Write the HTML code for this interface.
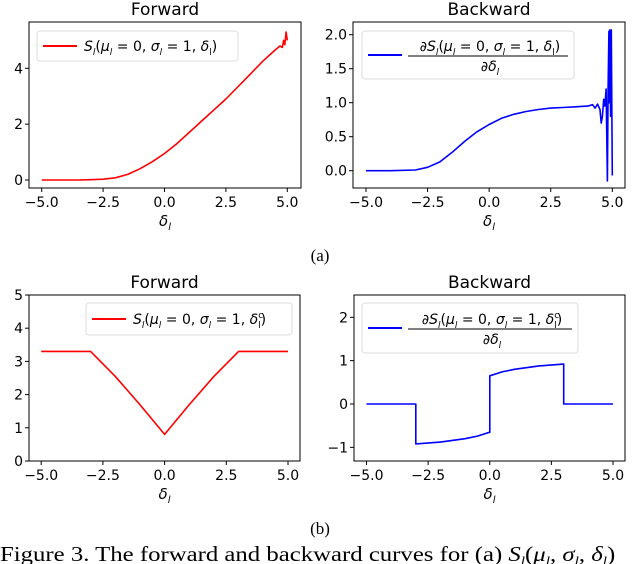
<!DOCTYPE html>
<html><head><meta charset="utf-8"><style>
body{margin:0;background:#fff;width:640px;height:564px;overflow:hidden}
svg{display:block}
text{font-family:"DejaVu Sans","Liberation Sans",sans-serif;fill:#000}
.cap{font-family:"Liberation Serif",serif}
</style></head><body>
<svg id="fig" width="640" height="564" viewBox="0 0 640 564">
<text x="320" y="261" class="cap" font-size="17" text-anchor="middle">(a)</text>
<text x="320" y="534" class="cap" font-size="17" text-anchor="middle">(b)</text>
<text x="0" y="561" class="cap" font-size="21" transform="scale(1.18,1)">Figure 3. The forward and backward curves for (a) <tspan font-style="italic">S</tspan><tspan font-style="italic" font-size="13" dy="4">l</tspan><tspan dy="-4">(</tspan><tspan font-style="italic">μ</tspan><tspan font-style="italic" font-size="13" dy="4">l</tspan><tspan dy="-4">, </tspan><tspan font-style="italic">σ</tspan><tspan font-style="italic" font-size="13" dy="4">l</tspan><tspan dy="-4">, </tspan><tspan font-style="italic">δ</tspan><tspan font-style="italic" font-size="13" dy="4">l</tspan><tspan dy="-4">)</tspan></text>
</svg>
<script>
// Panel A forward
const aFwdX=[-5,-4.5,-4,-3.5,-3,-2.5,-2,-1.5,-1,-0.5,0,0.5,1,1.5,2,2.5,3,3.5,4,4.5,4.7,4.8,4.85,4.9,4.95,5.0];
const aFwdY=[0,0,0,0,0.01,0.03,0.08,0.2,0.4,0.65,0.95,1.3,1.7,2.1,2.5,2.9,3.35,3.8,4.25,4.65,4.8,4.75,5.0,4.85,5.3,5.0];
// Panel A backward
const aBwdX=[-5,-4,-3,-2.5,-2,-1.5,-1,-0.5,0,0.5,1,1.5,2,2.5,3,3.5,4,4.2,4.3,4.4,4.5,4.55,4.6,4.65,4.7,4.75,4.8,4.83,4.86,4.88,4.9,4.93,4.96,5.0];
const aBwdY=[0,0,0.01,0.05,0.13,0.27,0.43,0.57,0.68,0.77,0.83,0.87,0.9,0.92,0.93,0.94,0.95,0.97,0.92,0.98,0.9,0.7,0.8,1.05,0.95,1.2,-0.15,1.2,2.05,1.0,2.07,0.8,2.07,-0.07];
// Panel B forward
const bFwdX=[-5,-3,-2,-1,0,1,2,3,5];
const bFwdY=[3.3,3.3,2.55,1.7,0.8,1.7,2.55,3.3,3.3];
// Panel B backward
const bBwdX=[-5,-3,-3,-2,-1,-0.5,0,0,0.5,1,2,3,3,5];
const bBwdY=[0,0,-0.92,-0.88,-0.8,-0.74,-0.65,0.65,0.74,0.8,0.88,0.92,0,0];
const xTicks=[-5,-2.5,0,2.5,5];
const xTickLabels=["−5.0","−2.5","0.0","2.5","5.0"];
const aFwdYTicks=[0,2,4]; const aFwdYLabels=["0","2","4"];
const aBwdYTicks=[0,0.5,1,1.5,2]; const aBwdYLabels=["0.0","0.5","1.0","1.5","2.0"];
const bFwdYTicks=[0,1,2,3,4,5]; const bFwdYLabels=["0","1","2","3","4","5"];
const bBwdYTicks=[-1,0,1,2]; const bBwdYLabels=["−1","0","1","2"];

const NS="http://www.w3.org/2000/svg";
const svg=document.getElementById('fig');
function mk(tag,attrs,parent,txt){const e=document.createElementNS(NS,tag);for(const k in attrs)e.setAttribute(k,attrs[k]);if(txt!==undefined)e.textContent=txt;(parent||svg).appendChild(e);return e;}

function panel(o){
  const g=mk('g',{});
  
  
  const sx=v=>o.px0+(v-(-5))*(o.px1-o.px0)/10;
  const sy=v=>o.py0-(v-o.yv0)*(o.py0-o.py1)/(o.yv1-o.yv0);
  const t=mk('text',{x:(o.bx0+o.bx1)/2,y:o.titleY,'font-size':17,'text-anchor':'middle'},g,o.title);
  
  xTicks.forEach((v,i)=>{const X=sx(v);
    mk('line',{x1:X,x2:X,y1:o.by1,y2:o.by1+4,stroke:'#000','stroke-width':1},g);
    const l=mk('text',{x:X,y:o.by1+19,'font-size':14,'text-anchor':'middle'},g,xTickLabels[i]);
    });
  o.yt.forEach((v,i)=>{const Y=sy(v);
    mk('line',{x1:o.bx0-4,x2:o.bx0,y1:Y,y2:Y,stroke:'#000','stroke-width':1},g);
    const l=mk('text',{x:o.bx0-6,y:Y+5,'font-size':14,'text-anchor':'end'},g,o.yl[i]);
    });
  const xl=mk('text',{x:(o.bx0+o.bx1)/2,y:o.by1+38,'font-size':15,'text-anchor':'middle','font-style':'italic'},g);
  xl.innerHTML='δ<tspan font-size="10" dy="4">l</tspan>';
  
  const pts=o.xs.map((v,i)=>sx(v).toFixed(1)+','+sy(o.ys[i]).toFixed(1)).join(' ');
  const pl=mk('polyline',{points:pts,fill:'none',stroke:o.color,'stroke-width':1.6,'stroke-linejoin':'round'},g);
  
  const fr=mk('rect',{x:o.bx0,y:o.by0,width:o.bx1-o.bx0,height:o.by1-o.by0,fill:'none',stroke:'#000','stroke-width':1},g);
  
  const L=o.leg;
  const lg=mk('g',{},g);
  
  mk('rect',{x:L.x,y:L.y,width:L.w,height:L.h,rx:3,fill:'#fff','fill-opacity':0.85,stroke:'#ddd'},lg);
  const ly=L.y+L.h/2;
  mk('line',{x1:L.x+6,x2:L.x+40,y1:ly,y2:ly,stroke:o.color,'stroke-width':2},lg);
  const sup=o.sup?'<tspan font-size="9" dy="-6">c</tspan><tspan font-size="9" dx="-5" dy="10">l</tspan><tspan dy="-4">)</tspan>':'<tspan font-size="9" dy="4">l</tspan><tspan dy="-4">)</tspan>';
  const expr='<tspan font-style="italic">S</tspan><tspan font-size="9" dy="4" font-style="italic">l</tspan><tspan dy="-4">(</tspan><tspan font-style="italic">μ</tspan><tspan font-size="9" dy="4" font-style="italic">l</tspan><tspan dy="-4"> = 0, </tspan><tspan font-style="italic">σ</tspan><tspan font-size="9" dy="4" font-style="italic">l</tspan><tspan dy="-4"> = 1, </tspan><tspan font-style="italic">δ</tspan>'+sup;
  if(!o.frac){
    const tx=mk('text',{x:L.x+47,y:ly+5,'font-size':14},lg);tx.innerHTML=expr;
    
  } else {
    const cx=L.x+48+(L.w-52)/2;
    const tx=mk('text',{x:cx,y:ly-4,'font-size':14,'text-anchor':'middle'},lg);tx.innerHTML='∂'+expr;
    
    mk('line',{x1:L.x+46,x2:L.x+L.w-6,y1:ly+1,y2:ly+1,stroke:'#000','stroke-width':1},lg);
    const d=mk('text',{x:cx,y:ly+16,'font-size':14,'text-anchor':'middle'},lg);d.innerHTML='∂<tspan font-style="italic">δ</tspan><tspan font-size="9" dy="4" font-style="italic">l</tspan>';
  }
}
panel({name:'forward-chart-a',title:'Forward',titleY:15,bx0:29,bx1:301,by0:22,by1:188,px0:41.7,px1:287.3,py0:180,py1:68.3,yv0:0,yv1:4,
  yt:aFwdYTicks,yl:aFwdYLabels,xs:aFwdX,ys:aFwdY,color:'#ff0000',leg:{x:37,y:31,w:201,h:30},frac:false});
panel({name:'backward-chart-a',title:'Backward',titleY:15,bx0:353,bx1:625,by0:22,by1:188,px0:366,px1:612.3,py0:170.7,py1:34.7,yv0:0,yv1:2,
  yt:aBwdYTicks,yl:aBwdYLabels,xs:aBwdX,ys:aBwdY,color:'#0000ff',leg:{x:362,y:31,w:212,h:48},frac:true});
panel({name:'forward-chart-b',title:'Forward',titleY:288,bx0:29,bx1:300,by0:295,by1:461,px0:41.2,px1:288,py0:461,py1:295,yv0:0,yv1:5,
  yt:bFwdYTicks,yl:bFwdYLabels,xs:bFwdX,ys:bFwdY,color:'#ff0000',leg:{x:86,y:303,w:206,h:32},frac:false,sup:true});
panel({name:'backward-chart-b',title:'Backward',titleY:288,bx0:354,bx1:625,by0:295,by1:461,px0:366.5,px1:613,py0:404,py1:317.3,yv0:0,yv1:2,
  yt:bBwdYTicks,yl:bBwdYLabels,xs:bBwdX,ys:bBwdY,color:'#0000ff',leg:{x:362,y:303,w:216,h:50},frac:true,sup:true});
</script>
</body></html>
